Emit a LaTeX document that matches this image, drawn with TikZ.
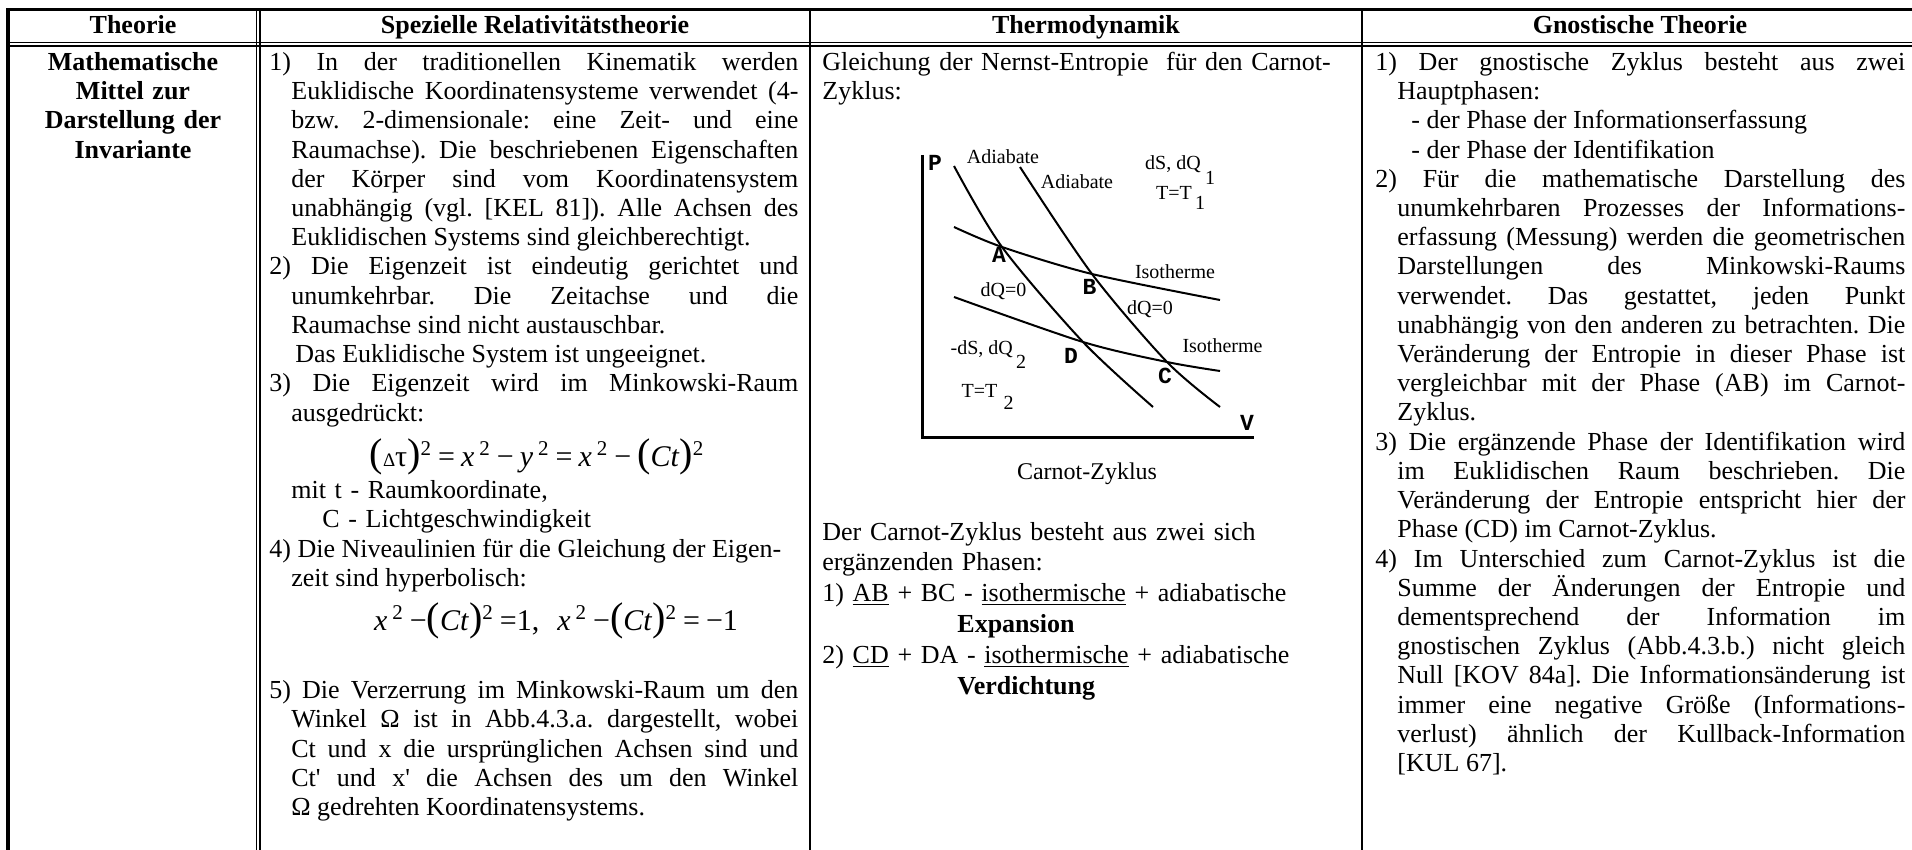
\documentclass[tikz,border=0pt]{standalone}
\usepackage{fontspec}
\setmainfont{Liberation Serif}
\newfontfamily\pointfamily{Liberation Mono}
\usepackage{tikz}

\newcommand{\bodysize}{\fontsize{13}{14.6}\selectfont}
\newcommand{\itemout}{\hspace*{-11pt}}
\newcommand{\eqparen}[1]{{\fontsize{20}{20}\selectfont #1}}
\newcommand{\eqsup}{\textsuperscript{2}}
\newcommand{\eqgap}{\hspace{0.2em}}
\hyphenpenalty=10000
\exhyphenpenalty=10000
\frenchspacing

\begin{document}
\begin{tikzpicture}[x=0.5pt,y=-0.5pt,
  tableframe/.style={line width=1.75pt},
  tablerule/.style={line width=0.75pt},
  colrule/.style={line width=1pt},
  headtext/.style={font=\bodysize\bfseries,anchor=base,inner sep=0pt},
  rowtitle/.style={font=\bodysize\bfseries,anchor=base,inner sep=0pt,
    text width=120pt,align=center},
  celltext/.style={font=\bodysize,anchor=base west,inner sep=0pt,
    text width=253.5pt,align=justify},
  plaintext/.style={font=\bodysize,anchor=base west,inner sep=0pt,
    text width=270pt,align=left},
  eqtext/.style={font=\fontsize{15}{15}\selectfont,anchor=base,inner sep=0pt},
  plotaxis/.style={line width=1.5pt},
  plotcurve/.style={line width=1pt},
  plotlabel/.style={font=\fontsize{10}{10}\selectfont,inner sep=0pt},
  pointmark/.style={font=\pointfamily\bfseries\fontsize{11.5}{11.5}\selectfont,
    inner sep=0pt},
  captiontext/.style={font=\fontsize{12}{12}\selectfont,anchor=base,inner sep=0pt}
]
  \useasboundingbox (0,0) rectangle (1912,850);

  \draw[tableframe] (8,850) -- (8,9.5) -- (1912,9.5);
  \draw[tablerule] (8,42.5) -- (1912,42.5);
  \draw[tablerule] (8,46) -- (1912,46);
  \draw[tablerule] (256.5,9.5) -- (256.5,850);
  \draw[tablerule] (260,9.5) -- (260,850);
  \draw[colrule] (810,9.5) -- (810,850);
  \draw[colrule] (1362,9.5) -- (1362,850);

  \node[headtext] (headtheory) at (133,34) {Theorie};
  \node[headtext] (headrelat) at (535,34) {Spezielle Relativitätstheorie};
  \node[headtext] (headthermo) at (1086,34) {Thermodynamik};
  \node[headtext] (headgnostic) at (1640,34) {Gnostische Theorie};

  \node[rowtitle] (rowmeans) at (133,70.6)
    {Mathematische\\Mittel zur\\Darstellung der\\Invariante};

  \node[celltext] (relatone) at (291,70.6)
    {\itemout 1) In der traditionellen Kinematik werden\linebreak
    Euklidische Koordinatensysteme verwendet (4-\linebreak
    bzw. 2-dimensionale: eine Zeit- und eine\linebreak
    Raumachse). Die beschriebenen Eigenschaften\linebreak
    der Körper sind vom Koordinatensystem\linebreak
    unabhängig (vgl. [KEL 81]). Alle Achsen des\linebreak
    Euklidischen Systems sind gleichberechtigt.};
  \node[celltext] (relattwo) at (291,275)
    {\itemout 2) Die Eigenzeit ist eindeutig gerichtet und\linebreak
    unumkehrbar. Die Zeitachse und die\linebreak
    Raumachse sind nicht austauschbar.\newline
    \hspace*{2pt}Das Euklidische System ist ungeeignet.};
  \node[celltext] (relatthree) at (291,391.8)
    {\itemout 3) Die Eigenzeit wird im Minkowski-Raum\linebreak
    ausgedrückt:};
  \node[eqtext] (eqinterval) at (537,466)
    {\eqparen{(}{\fontsize{9.5}{9.5}\selectfont Δ}τ\eqparen{)}\eqsup\eqgap=\eqgap
    \textit{x}\,\eqsup\eqgap−\eqgap\textit{y}\,\eqsup\eqgap=\eqgap
    \textit{x}\,\eqsup\eqgap−\eqgap\eqparen{(}\textit{Ct}\eqparen{)}\eqsup};
  \node[plaintext] (relatlegend) at (291,498.6)
    {mit t - Raumkoordinate,\\\hspace*{15.5pt}C - Lichtgeschwindigkeit};
  \node[celltext] (relatfour) at (291,557)
    {\itemout 4) Die Niveaulinien für die Gleichung der Eigen-\newline
    zeit sind hyperbolisch:};
  \node[eqtext] (eqlevel) at (556,630)
    {\textit{x}\,\eqsup\eqgap−\eqparen{(}\textit{Ct}\eqparen{)}\eqsup\eqgap=1,%
    \hspace{0.6em}\textit{x}\,\eqsup\eqgap−\eqparen{(}\textit{Ct}\eqparen{)}\eqsup
    \eqgap=\eqgap−1};
  \node[celltext] (relatfive) at (291,698.6)
    {\itemout 5) Die Verzerrung im Minkowski-Raum um den\linebreak
    Winkel Ω ist in Abb.4.3.a. dargestellt, wobei\linebreak
    Ct und x die ursprünglichen Achsen sind und\linebreak
    Ct\textquotesingle{} und x\textquotesingle{} die Achsen des um den Winkel\linebreak
    Ω gedrehten Koordinatensystems.};

  \node[plaintext] (thermointro) at (822,70.6)
    {Gleichung der Nernst-Entropie\ \ für den Carnot-\\Zyklus:};

  \draw[plotaxis] (922,155) -- (922,437) -- (1254,437);
  \coordinate (ptA) at (1002,247);
  \coordinate (ptB) at (1092,274);
  \coordinate (ptC) at (1167,362);
  \coordinate (ptD) at (1083,342);
  \draw[plotcurve] plot[smooth] coordinates {(954,166) (ptA) (ptD) (1153,407)};
  \draw[plotcurve] plot[smooth] coordinates {(1020,167) (ptB) (ptC) (1220,407)};
  \draw[plotcurve] plot[smooth] coordinates {(954,227) (ptA) (ptB) (1220,300)};
  \draw[plotcurve] plot[smooth] coordinates {(954,297) (ptD) (ptC) (1220,371)};

  \node[pointmark] (labP) at (935,163) {P};
  \node[pointmark] (labA) at (999,255) {A};
  \node[pointmark] (labB) at (1089.5,286.5) {B};
  \node[pointmark] (labD) at (1071,355.5) {D};
  \node[pointmark] (labC) at (1165,375.5) {C};
  \node[pointmark] (labV) at (1247,422.5) {V};
  \node[plotlabel] (adiabone) at (1003,157) {Adiabate};
  \node[plotlabel] (adiabtwo) at (1077,182) {Adiabate};
  \node[plotlabel,anchor=base] (heatone) at (1173,170) {dS, dQ};
  \node[plotlabel,anchor=base] (heatonei) at (1210,185) {1};
  \node[plotlabel,anchor=base] (tempone) at (1174,200) {T=T};
  \node[plotlabel,anchor=base] (temponei) at (1200,210) {1};
  \node[plotlabel] (isoone) at (1175,271.5) {Isotherme};
  \node[plotlabel] (adiaqone) at (1003.5,291.5) {dQ=0};
  \node[plotlabel] (adiaqtwo) at (1150,309.5) {dQ=0};
  \node[plotlabel] (isotwo) at (1222.5,345.5) {Isotherme};
  \node[plotlabel] (heattwo) at (981.7,349.5) {-dS, dQ};
  \node[plotlabel] (heattwoi) at (1021,361.5) {2};
  \node[plotlabel] (temptwo) at (979.5,390.5) {T=T};
  \node[plotlabel] (temptwoi) at (1008.7,402.5) {2};
  \node[captiontext] (carnotcap) at (1087,479) {Carnot-Zyklus};

  \node[plaintext,font=\fontsize{13}{15.4}\selectfont] (thermophases) at (822,540)
    {Der Carnot-Zyklus besteht aus zwei sich\\
    ergänzenden Phasen:\\
    1) \underline{AB} + BC - \underline{isothermische} + adiabatische\\
    \hspace*{67.5pt}\textbf{Expansion}\\
    2) \underline{CD} + DA - \underline{isothermische} + adiabatische\\
    \hspace*{67.5pt}\textbf{Verdichtung}};

  \node[celltext,text width=254pt] (gnosone) at (1397,70.6)
    {\itemout 1) Der gnostische Zyklus besteht aus zwei\linebreak
    Hauptphasen:\newline
    \hspace*{7pt}- der Phase der Informationserfassung\newline
    \hspace*{7pt}- der Phase der Identifikation};
  \node[celltext,text width=254pt] (gnostwo) at (1397,187.4)
    {\itemout 2) Für die mathematische Darstellung des\linebreak
    unumkehrbaren Prozesses der Informations-\linebreak
    erfassung (Messung) werden die geometrischen\linebreak
    Darstellungen des Minkowski-Raums\linebreak
    verwendet. Das gestattet, jeden Punkt\linebreak
    unabhängig von den anderen zu betrachten. Die\linebreak
    Veränderung der Entropie in dieser Phase ist\linebreak
    vergleichbar mit der Phase (AB) im Carnot-\linebreak
    Zyklus.};
  \node[celltext,text width=254pt] (gnosthree) at (1397,450.2)
    {\itemout 3) Die ergänzende Phase der Identifikation wird\linebreak
    im Euklidischen Raum beschrieben. Die\linebreak
    Veränderung der Entropie entspricht hier der\linebreak
    Phase (CD) im Carnot-Zyklus.};
  \node[celltext,text width=254pt] (gnosfour) at (1397,567)
    {\itemout 4) Im Unterschied zum Carnot-Zyklus ist die\linebreak
    Summe der Änderungen der Entropie und\linebreak
    dementsprechend der Information im\linebreak
    gnostischen Zyklus (Abb.4.3.b.) nicht gleich\linebreak
    Null [KOV 84a]. Die Informationsänderung ist\linebreak
    immer eine negative Größe (Informations-\linebreak
    verlust) ähnlich der Kullback-Information\linebreak{}%
    [KUL 67].};
\end{tikzpicture}
\end{document}
